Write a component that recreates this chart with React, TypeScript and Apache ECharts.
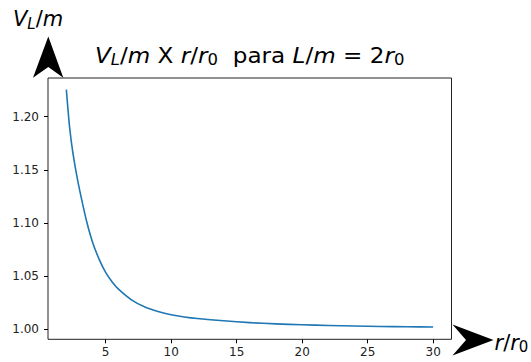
import { useEffect, useRef } from 'react';
import * as echarts from 'echarts';

// r / r0 values (x) and V_L / m values (y)
const rValues = [2, 2.25, 2.5, 2.85, 3.25, 3.6, 4, 4.5, 5, 5.5, 6, 7, 8, 9, 10, 11, 12, 14, 16, 18, 20, 22, 24, 26, 28, 30];
const vValues = [1.2255, 1.19, 1.166, 1.141, 1.1175, 1.099, 1.082, 1.066, 1.0535, 1.0445, 1.0375, 1.0275, 1.021, 1.0168, 1.0137, 1.0116, 1.0101, 1.008, 1.0063, 1.0051, 1.0043, 1.0036, 1.0031, 1.0027, 1.0024, 1.0021];
const xTicks = [5, 10, 15, 20, 25, 30];
const yTicks = [1.0, 1.05, 1.1, 1.15, 1.2];

const FONT = 'DejaVu Sans';

function mathRich(size: number, sub: number, drop: number) {
  return {
    n: { fontFamily: FONT, fontSize: size, lineHeight: size + 4, color: '#000' },
    i: { fontFamily: FONT, fontSize: size, lineHeight: size + 4, fontStyle: 'italic', color: '#000' },
    sl: { fontFamily: FONT, fontSize: sub, lineHeight: size + 4 - drop, padding: [drop, 0, 0, 0], fontStyle: 'italic', color: '#000' },
    s0: { fontFamily: FONT, fontSize: sub, lineHeight: size + 4 - drop, padding: [drop, 0, 0, 0], color: '#000' },
  };
}

export default function App() {
  const ref = useRef<HTMLDivElement>(null);
  useEffect(() => {
    if (!ref.current) return;
    const chart = echarts.init(ref.current, undefined, { renderer: 'svg' });
    const data = rValues.map((r, k) => [r, vValues[k]]);
    chart.setOption({
      animation: false,
      backgroundColor: '#fff',
      grid: {
        left: 48,
        right: 79.5,
        top: 78,
        bottom: 22.7,
        show: true,
        borderColor: '#222',
        borderWidth: 1,
        backgroundColor: 'transparent',
      },
      xAxis: {
        type: 'value',
        min: 0.6,
        max: 31.4,
        axisLine: { show: false },
        splitLine: { show: false },
        axisTick: { show: true, length: 4, lineStyle: { color: '#000' }, customValues: xTicks },
        axisLabel: {
          customValues: xTicks,
          margin: 7,
          fontFamily: FONT,
          fontSize: 12,
          color: '#222',
          formatter: (v: number) => String(v),
        },
      },
      yAxis: {
        type: 'value',
        min: 0.9906,
        max: 1.2364,
        axisLine: { show: false },
        splitLine: { show: false },
        axisTick: { show: true, length: 4, lineStyle: { color: '#000' }, customValues: yTicks },
        axisLabel: {
          customValues: yTicks,
          margin: 9,
          fontFamily: FONT,
          fontSize: 12,
          color: '#222',
          formatter: (v: number) => v.toFixed(2),
        },
      },
      series: [
        {
          type: 'line',
          data,
          showSymbol: false,
          smooth: 0.25,
          lineStyle: { color: '#1f77b4', width: 1.6, join: 'round' },
        },
      ],
      graphic: [
        {
          type: 'polygon',
          shape: { points: [[48.3, 36.5], [63.3, 77.7], [48.3, 67], [33, 77.7]] },
          style: { fill: '#000' },
          z: 100,
        },
        {
          type: 'polygon',
          shape: { points: [[493.5, 340], [452.5, 355.5], [466, 340], [452.5, 324.5]] },
          style: { fill: '#000' },
          z: 100,
        },
        {
          type: 'text',
          x: 95,
          y: 43,
          scaleX: 1.1,
          style: {
            text: '{i|V}{sl|L}{n|/}{i|m}{n| X }{i|r}{n|/}{i|r}{s0|0}{n|  para }{i|L}{n|/}{i|m}{n| = 2}{i|r}{s0|0}',
            rich: mathRich(21, 15, 9),
            align: 'left',
            verticalAlign: 'top',
          },
          z: 100,
        },
        {
          type: 'text',
          x: 13,
          y: 6.5,
          style: {
            text: '{i|V}{sl|L}{n|/}{i|m}',
            rich: mathRich(21, 15, 9),
            align: 'left',
            verticalAlign: 'top',
          },
          z: 100,
        },
        {
          type: 'text',
          x: 494.5,
          y: 330,
          style: {
            text: '{i|r}{n|/}{i|r}{s0|0}',
            rich: mathRich(21, 15, 9),
            align: 'left',
            verticalAlign: 'top',
          },
          z: 100,
        },
      ],
    });
    return () => chart.dispose();
  }, []);
  return <div ref={ref} style={{ width: 531, height: 362, position: 'absolute', left: 0, top: 0 }} />;
}
